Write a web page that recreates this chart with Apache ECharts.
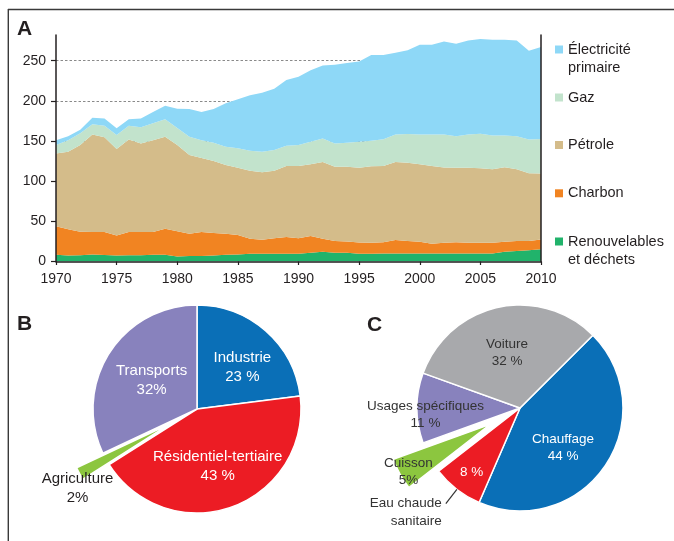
<!DOCTYPE html>
<html>
<head>
<meta charset="utf-8">
<script src="https://cdn.jsdelivr.net/npm/echarts@6/dist/echarts.min.js"></script>
<style>
html,body{margin:0;padding:0;background:#fff;}
#chart{width:674px;height:541px;}
</style>
</head>
<body>
<div id="chart"></div>
<script>
// ---- Panel A data (Mtep) ----
const years = [1970,1971,1972,1973,1974,1975,1976,1977,1978,1979,1980,1981,1982,1983,1984,1985,1986,1987,1988,1989,1990,1991,1992,1993,1994,1995,1996,1997,1998,1999,2000,2001,2002,2003,2004,2005,2006,2007,2008,2009,2010];
const renouvelables = [8.3,7.5,7.9,8.8,8,7.5,7.9,7.9,8.3,8.3,6.3,6.7,7,7.5,8.3,8.8,9.6,9.6,9.6,9.6,9.6,10.8,12,10.8,10.8,9.6,9.6,10,10,10,10,10,10,10,10,10,10,12,13,14,15.4];
const charbon = [35.5,32.5,29.1,27.9,28.7,25,28.8,28.8,28.4,32.5,31.3,27.9,29.7,27.9,26.3,24.3,18.7,17.4,19.2,20.8,19.2,20.9,16.3,14.6,14.2,14.2,13.7,14,16.7,15.4,14.6,12,13.3,14,13.3,13.3,13.3,12.6,12.4,11.4,12.1];
const petrole = [90.8,96.7,108,121.3,117.9,107.5,115.3,110.3,114.3,114.6,107.5,97.9,92.3,89.6,85.4,83.7,84.7,84,84.3,88.4,90,89.3,95.7,92.6,93,92.9,95.4,94.8,97.3,97.6,96.4,97,93.7,92.7,93.4,92.7,91.7,92.9,89.6,84.6,82.1];
const gaz = [10.4,14.3,14.6,13,14.4,17.5,17,20,21,21.6,21,22.9,22,23,23,24.3,25,25.7,25.8,25.3,26.3,28,29,29,30,32.3,31.7,33.3,34,35.8,37,39,41,39.3,41.3,43,42,39.5,41,42,42.9];
const electricite = [6,5,4.4,8,9,8.5,8,11,14,17,24,34.6,35,42,54,61,69,73.3,76.3,82,85,89,91,98,99,100,106.6,105,102,104.3,112,112,116,115,117,118,119,119,119,110.5,114.5];
const yTickValues = [0,50,100,150,200,250];

// ---- Panel B data ----
const secteursB = ['Industrie','Résidentiel-tertiaire','Agriculture','Transports'];
const valeursB = [23,43,2,32];
const etiquettesB = ['Industrie\n23 %','Résidentiel-tertiaire\n43 %','Agriculture\n2%','Transports\n32%'];

// ---- Panel C data ----
const usagesC = ['Chauffage','Eau chaude sanitaire','Cuisson','Usages spécifiques','Voiture'];
const valeursC = [44,8,5,11,32];
const etiquettesC = ['Chauffage\n44 %','8 %','Cuisson\n5%','Usages spécifiques\n11 %','Voiture\n32 %'];

const FONT = 'Liberation Sans';
const DARK = '#231f20';
const NB = '\u00a0';

const chart = echarts.init(document.getElementById('chart'), null, {renderer:'canvas'});

const areaNames = ['Renouvelables\net déchets','Charbon','Pétrole','Gaz','Électricité\nprimaire'];
const areaData = [renouvelables, charbon, petrole, gaz, electricite];
const areaColors = ['#21b36b','#f18422','#d4bc8a','#c2e3cc','#8ed8f7'];

const areaSeries = areaNames.map((n,i)=>({
  name: n, type:'line', stack:'total', symbol:'none', smooth:false,
  lineStyle:{width:0, color: areaColors[i]}, itemStyle:{color: areaColors[i]},
  areaStyle:{color: areaColors[i], opacity:1},
  data: areaData[i],
  xAxisIndex:0, yAxisIndex:0, z:2, silent:true
}));

// one legend per item so they are spaced like the reference
const legendCenters = [49.5, 97.5, 145, 193.3, 241.5];
const legendOrder = [4,3,2,1,0];
const LH = 18.5;
const legends = legendOrder.map((si,k)=>{
  const twoLines = areaNames[si].indexOf('\n')>=0;
  return {
    data:[areaNames[si]], orient:'vertical', left:555,
    top: twoLines ? legendCenters[k] - 1.5*LH : legendCenters[k] - LH/2,
    padding:0, icon:'rect', itemWidth:8, itemHeight:8, selectedMode:false,
    formatter: name => twoLines ? NB + '\n' + name : name,
    textStyle:{fontFamily:FONT, fontSize:14.5, color:DARK, lineHeight:LH}
  };
});

const offB = [[9,0],[2,6],[-45,38],[1,1]];
const offC = [[-2,9],[-15,21],[-34,21],[-40,7],[-1,-2]];

const axisLineStyle = {color:DARK, width:1.5};

const option = {
  animation:false,
  backgroundColor:'#fff',
  textStyle:{fontFamily:FONT},
  legend: legends,
  grid:{left:56, right:133, top:35, bottom:279.5, containLabel:false},
  xAxis:{type:'category', data: years, boundaryGap:false, z:10,
    axisLine:{show:true, onZero:false, lineStyle:axisLineStyle},
    axisTick:{show:true, length:3.5, inside:false, interval:4, lineStyle:{color:DARK, width:1.2}},
    axisLabel:{fontFamily:FONT, fontSize:14, color:DARK, margin:11, interval:4},
    splitLine:{show:false}},
  yAxis:[
   // labels, ticks and dashed grid (behind the areas)
   {type:'value', min:0, max:282, interval:50, z:0, position:'left',
    axisLine:{show:false},
    axisTick:{show:true, length:5, customValues: yTickValues, lineStyle:{color:DARK, width:1.2}},
    axisLabel:{fontFamily:FONT, fontSize:14, color:DARK, margin:10, customValues: yTickValues},
    splitLine:{show:true, showMinLine:false, lineStyle:{color:'#8a8a8a', width:1, type:[2.5,2]}}},
   // right frame line
   {type:'value', min:0, max:282, z:10, position:'right',
    axisLine:{show:true, onZero:false, lineStyle:axisLineStyle},
    axisTick:{show:false}, axisLabel:{show:false}, splitLine:{show:false}},
   // left axis line, above the areas
   {type:'value', min:0, max:282, z:10, position:'left',
    axisLine:{show:true, onZero:false, lineStyle:axisLineStyle},
    axisTick:{show:false}, axisLabel:{show:false}, splitLine:{show:false}}],
  graphic:[
    {type:'line', shape:{x1:8, y1:9.5, x2:674, y2:9.5}, style:{stroke:'#3a3a3a', lineWidth:1.4}, silent:true},
    {type:'line', shape:{x1:8.3, y1:9, x2:8.3, y2:541}, style:{stroke:'#3a3a3a', lineWidth:1.4}, silent:true},
    {type:'text', x:17, y:29, style:{text:'A', font:'bold 21px "Liberation Sans"', fill:DARK, verticalAlign:'middle', align:'left'}},
    {type:'text', x:17, y:324.5, style:{text:'B', font:'bold 21px "Liberation Sans"', fill:DARK, verticalAlign:'middle', align:'left'}},
    {type:'text', x:367, y:325.5, style:{text:'C', font:'bold 21px "Liberation Sans"', fill:DARK, verticalAlign:'middle', align:'left'}}
  ],
  series: [
    ...areaSeries,
    {
      type:'pie', center:[197,409], radius:104, startAngle:90, clockwise:true,
      avoidLabelOverlap:false, selectedMode:'single', selectedOffset:30, silent:true,
      emphasis:{disabled:true},
      itemStyle:{borderColor:'#fff', borderWidth:1.5},
      label:{show:true, position:'inside', fontFamily:FONT, fontSize:15, lineHeight:19, color:'#fff',
        formatter:p=>etiquettesB[p.dataIndex]},
      labelLine:{show:false},
      labelLayout:p=>({dx:offB[p.dataIndex][0], dy:offB[p.dataIndex][1]}),
      data: secteursB.map((n,i)=>({name:n, value:valeursB[i],
        selected: n==='Agriculture',
        itemStyle:{color:['#0a6fb7','#ec1c24','#8cc63f','#8882bd'][i]},
        label:{color: n==='Agriculture' ? DARK : '#fff'}}))
    },
    {
      type:'pie', center:[520,408], radius:103, startAngle:45, clockwise:true,
      avoidLabelOverlap:false, selectedMode:'single', selectedOffset:34, silent:true,
      emphasis:{disabled:true},
      itemStyle:{borderColor:'#fff', borderWidth:1.5},
      label:{show:true, position:'inside', fontFamily:FONT, fontSize:13.5, lineHeight:17.5, color:'#fff',
        formatter:p=>etiquettesC[p.dataIndex]},
      labelLine:{show:false},
      labelLayout:p=>({dx:offC[p.dataIndex][0], dy:offC[p.dataIndex][1]}),
      data: usagesC.map((n,i)=>({name:n, value:valeursC[i],
        selected: n==='Cuisson',
        itemStyle:{color:['#0a6fb7','#ec1c24','#8cc63f','#8882bd','#a8a9ac'][i]},
        label:{color: (n==='Chauffage'||n==='Eau chaude sanitaire') ? '#fff' : '#333'}}))
    },
    {
      type:'pie', center:[520,408], radius:103, startAngle:45, clockwise:true,
      avoidLabelOverlap:false, silent:true, emphasis:{disabled:true}, z:3,
      itemStyle:{color:'rgba(0,0,0,0)', borderWidth:0},
      label:{show:false},
      labelLine:{show:false},
      data: usagesC.map((n,i)=>({name:n, value:valeursC[i],
        label: n==='Eau chaude sanitaire' ? {show:true, position:'outside', formatter: NB + '\nEau chaude\nsanitaire',
          fontFamily:FONT, fontSize:13.5, lineHeight:17.5, color:'#333', distanceToLabelLine:4} : {show:false},
        labelLine: n==='Eau chaude sanitaire' ? {show:true, length:18, length2:0, lineStyle:{color:'#333', width:1.2}} : {show:false}}))
    }
  ]
};
chart.setOption(option);
</script>
</body>
</html>
